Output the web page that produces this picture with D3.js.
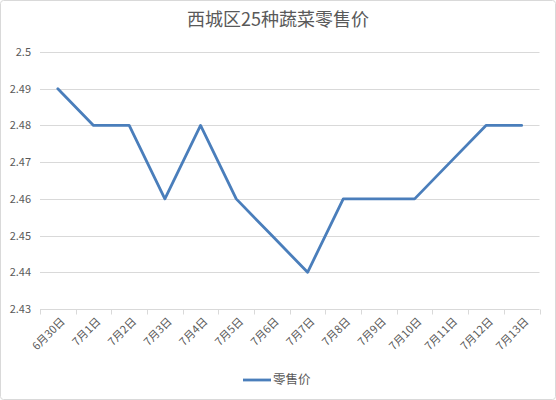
<!DOCTYPE html>
<html><head><meta charset="utf-8">
<script src="https://cdn.jsdelivr.net/npm/d3@7"></script>
<style>body{margin:0;background:#fff}svg{display:block}text{font-family:"Noto Sans CJK SC","Noto Sans",sans-serif}</style>
</head><body><svg id="c" width="556" height="400"></svg>
<script>
const categories = ["6月30日","7月1日","7月2日","7月3日","7月4日","7月5日","7月6日","7月7日","7月8日","7月9日","7月10日","7月11日","7月12日","7月13日"];
const values = [2.49,2.48,2.48,2.46,2.48,2.46,2.45,2.44,2.46,2.46,2.46,2.47,2.48,2.48];
const yTicks = [2.43,2.44,2.45,2.46,2.47,2.48,2.49,2.5];
const seriesName = "零售价";
const title = "西城区25种蔬菜零售价";

const svg = d3.select("#c");
svg.append("rect").attr("x",0.5).attr("y",0.5).attr("width",555).attr("height",399).attr("rx",3)
  .attr("fill","#fff").attr("stroke","#d9d9d9");
const L=40,R=539.5,T=52,B=309;
const x = d3.scaleBand().domain(categories).range([L,R]);
const y = d3.scaleLinear().domain([2.43,2.5]).range([B,T]);
const grid = svg.append("g");
grid.selectAll("line").data(yTicks.slice(1)).join("line")
  .attr("x1",L).attr("x2",R).attr("y1",d=>Math.round(y(d))+0.5).attr("y2",d=>Math.round(y(d))+0.5)
  .attr("stroke","#d9d9d9");
const ya = svg.append("g").attr("transform",`translate(${L},0)`).call(d3.axisLeft(y).tickValues(yTicks).tickSize(0).tickPadding(9).tickFormat(d=>String(+d.toFixed(2))));
ya.select(".domain").remove();
ya.selectAll("text").attr("fill","#595959").style("font-size","11px");
// x axis
const xa = svg.append("g").attr("transform",`translate(0,${Math.round(B)+0.5})`);
xa.append("line").attr("x1",L).attr("x2",R).attr("stroke","#d9d9d9");
const tickPos = categories.map(c=>x(c)).concat([R]);
xa.selectAll("line.t").data(tickPos).join("line").attr("class","t")
  .attr("x1",d=>Math.round(d)+0.5).attr("x2",d=>Math.round(d)+0.5).attr("y1",0).attr("y2",5).attr("stroke","#d9d9d9");
xa.selectAll("text").data(categories).join("text")
  .attr("transform",d=>`translate(${x(d)+x.bandwidth()/2+5},${10}) rotate(-45)`)
  .attr("text-anchor","end").attr("dy","0.35em").attr("fill","#595959").style("font-size","11px").text(d=>d);
// line
const line = d3.line().x((d,i)=>x(categories[i])+x.bandwidth()/2).y(d=>y(d));
svg.append("path").datum(values).attr("d",line).attr("fill","none").attr("stroke","#4a7ebb").attr("stroke-width",2.8).attr("stroke-linejoin","round").attr("stroke-linecap","round");
// title
svg.append("text").attr("x",278).attr("y",20).attr("text-anchor","middle").attr("dy","0.35em")
  .attr("fill","#595959").style("font-size","18px").text(title);
// legend
svg.append("line").attr("x1",243).attr("x2",271).attr("y1",380).attr("y2",380).attr("stroke","#4a7ebb").attr("stroke-width",2.8);
svg.append("text").attr("x",273).attr("y",380).attr("dy","0.35em").attr("fill","#595959").style("font-size","12.5px").text(seriesName);
</script></body></html>
